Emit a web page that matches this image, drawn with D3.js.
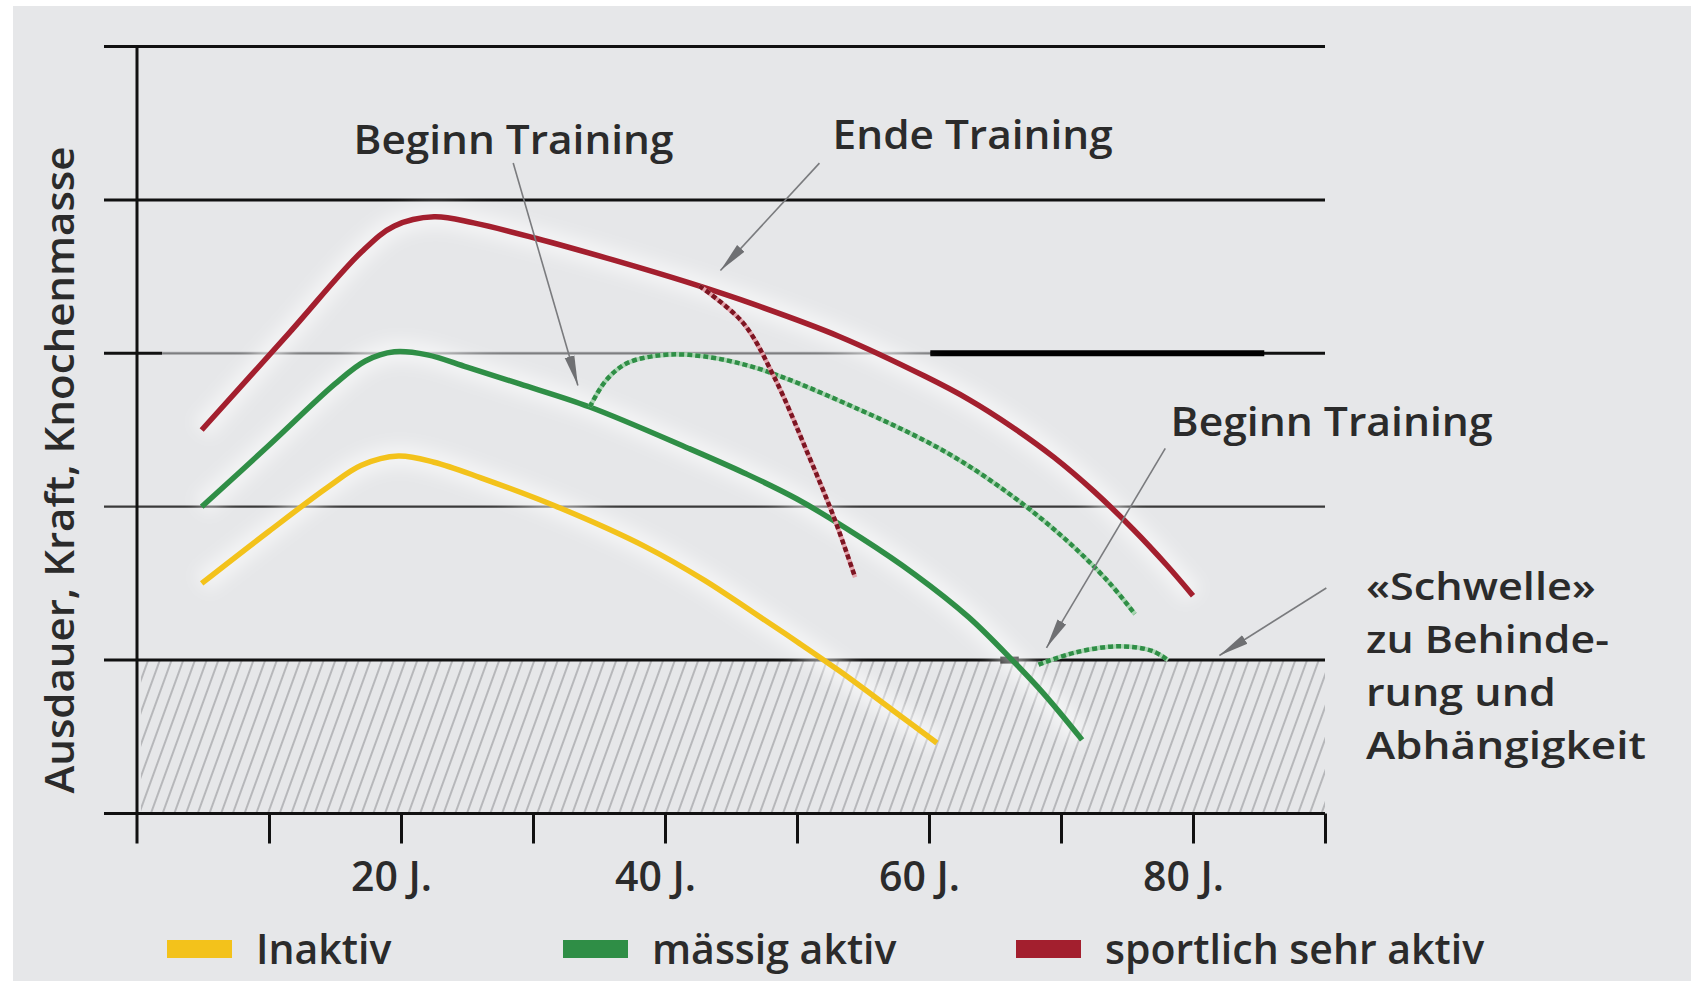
<!DOCTYPE html>
<html>
<head>
<meta charset="utf-8">
<script src="https://cdn.jsdelivr.net/npm/d3@7"></script>
<style>
  html, body { margin: 0; padding: 0; background: #ffffff; }
  svg { display: block; }
  text { font-family: "Open Sans", "Noto Sans", sans-serif; font-weight: 600; fill: #2b2b2b; }
</style>
</head>
<body>
<div id="chart"></div>
<script>
// chart values (age in years, level in grid units 0..5)
var redAge   = [4.9, 11.5, 17.0, 19.5, 22.5, 25.5, 30.2, 36.0, 41.8, 46.7, 53.2, 59.7, 63.0, 66.3, 69.5, 72.5, 75.5, 78.0, 80.0];
var redVal   = [2.50, 3.13, 3.66, 3.83, 3.89, 3.85, 3.75, 3.61, 3.46, 3.32, 3.11, 2.85, 2.70, 2.52, 2.32, 2.10, 1.85, 1.62, 1.42];
var redStopAge = [42.6, 45.9, 48.3, 50.8, 52.8, 54.4];
var redStopVal = [3.44, 3.20, 2.84, 2.35, 1.93, 1.54];

var greenAge = [4.9, 10.0, 15.0, 17.3, 19.5, 22.0, 25.0, 29.0, 34.3, 41.8, 46.0, 50.0, 54.8, 58.9, 63.0, 66.3, 68.7, 71.6];
var greenVal = [2.00, 2.40, 2.80, 2.95, 3.01, 2.99, 2.91, 2.80, 2.65, 2.38, 2.22, 2.05, 1.80, 1.56, 1.28, 1.00, 0.78, 0.48];
var greenStartAge = [34.3, 35.5, 37.0, 39.0, 41.8, 46.7, 54.8, 61.4, 66.3, 70.3, 73.6, 75.6];
var greenStartVal = [2.65, 2.82, 2.93, 2.98, 2.99, 2.91, 2.63, 2.35, 2.07, 1.79, 1.51, 1.30];
var greenLateAge = [68.3, 71.1, 74.4, 76.9, 78.1];
var greenLateVal = [0.97, 1.05, 1.09, 1.06, 1.00];

var yellowAge = [4.9, 10.0, 14.5, 17.0, 19.8, 22.5, 26.0, 32.1, 38.5, 43.0, 46.7, 50.0, 53.2, 57.3, 60.6];
var yellowVal = [1.50, 1.84, 2.13, 2.27, 2.33, 2.29, 2.19, 1.99, 1.74, 1.52, 1.31, 1.12, 0.93, 0.67, 0.46];

var gridLevels = [0, 1, 2, 3, 4, 5];
var tickAges = [10, 20, 30, 40, 50, 60, 70, 80, 90];
var labelAges = [20, 40, 60, 80];
var threshold = 1;

var legendNames = ["Inaktiv", "mässig aktiv", "sportlich sehr aktiv"];
var legendColors = ["#f3c21b", "#2f8e46", "#a31f2e"];

// annotations: text anchor (age, level), widths per line, and arrows from -> to
var notes = [
  {lines: ["Beginn Training"], lens: [320], age: 16.4, val: 4.30, size: 40},
  {lines: ["Ende Training"], lens: [280], age: 52.7, val: 4.33, size: 40},
  {lines: ["Beginn Training"], lens: [322], age: 78.3, val: 2.46, size: 40},
  {lines: ["«Schwelle»", "zu Behinde-", "rung und", "Abhängigkeit"], lens: [230, 243, 190, 280], age: 93.1, val: 1.39, size: 38}
];
var arrows = [
  [[28.5, 4.24], [33.4, 2.79]],
  [[51.7, 4.24], [44.2, 3.54]],
  [[77.9, 2.38], [68.9, 1.08]],
  [[90.1, 1.47], [82.0, 1.03]]
];

var width = 1691, height = 988;

var svg = d3.select("#chart").append("svg")
    .attr("width", width)
    .attr("height", height);

var x = d3.scaleLinear().domain([0, 90]).range([137, 1325]);
var y = d3.scaleLinear().domain([0, 5]).range([813.5, 46.5]);

// defs: hatching, arrow head, soft glow
var defs = svg.append("defs");
var hatch = defs.append("pattern")
    .attr("id", "hatch")
    .attr("patternUnits", "userSpaceOnUse")
    .attr("width", 11).attr("height", 11)
    .attr("patternTransform", "rotate(20)");
hatch.append("line")
    .attr("x1", 2).attr("y1", 0).attr("x2", 2).attr("y2", 11)
    .attr("stroke", "#8e8f93").attr("stroke-width", 1.1);

defs.append("marker")
    .attr("id", "head")
    .attr("markerUnits", "userSpaceOnUse")
    .attr("viewBox", "0 0 30 12")
    .attr("refX", 30).attr("refY", 6)
    .attr("markerWidth", 30).attr("markerHeight", 12)
    .attr("orient", "auto")
  .append("path")
    .attr("d", "M0,1 L30,6 L0,11 Z")
    .attr("fill", "#6f7073");

var glow = defs.append("filter").attr("id", "glow")
    .attr("x", "-20%").attr("y", "-20%").attr("width", "140%").attr("height", "140%");
glow.append("feGaussianBlur").attr("stdDeviation", 8);

// background panel
svg.append("rect")
    .attr("x", 13).attr("y", 6)
    .attr("width", width - 13).attr("height", height - 13)
    .attr("fill", "#e6e7e9");

// hatched zone below the threshold
svg.append("rect")
    .attr("x", x(0.3)).attr("y", y(threshold))
    .attr("width", x(90) - x(0.3))
    .attr("height", y(0) - y(threshold))
    .attr("fill", "url(#hatch)");

// horizontal grid lines (they also carry the y ticks)
svg.append("g").selectAll("line")
    .data(gridLevels).enter().append("line")
    .attr("x1", x(0) - 33)
    .attr("x2", x(90))
    .attr("y1", function(d) { return y(d); })
    .attr("y2", function(d) { return y(d); })
    .attr("stroke", function(d) { return d == 2 ? "#3a3a3a" : "#111"; })
    .attr("stroke-width", function(d) { return d == 2 ? 2.2 : 3; });

// the level-3 line is printed lighter in the middle and heavier on the right
var g3 = svg.append("g");
g3.append("line")
    .attr("x1", x(1.9)).attr("x2", x(60.1))
    .attr("y1", y(3)).attr("y2", y(3))
    .attr("stroke", "#e6e7e9").attr("stroke-width", 4);
g3.append("line")
    .attr("x1", x(1.9)).attr("x2", x(60.1))
    .attr("y1", y(3)).attr("y2", y(3))
    .attr("stroke", "#7d7e80").attr("stroke-width", 2.2);
g3.append("line")
    .attr("x1", x(60.1)).attr("x2", x(85.4))
    .attr("y1", y(3)).attr("y2", y(3))
    .attr("stroke", "#000").attr("stroke-width", 6);
svg.append("line")
    .attr("x1", x(65.4)).attr("x2", x(66.8))
    .attr("y1", y(1)).attr("y2", y(1))
    .attr("stroke", "#000").attr("stroke-width", 7);

// y axis
svg.append("line")
    .attr("x1", x(0)).attr("x2", x(0))
    .attr("y1", y(5)).attr("y2", y(0) + 30)
    .attr("stroke", "#111").attr("stroke-width", 3);

// x axis ticks + labels
var xAxis = d3.axisBottom(x)
    .tickValues(tickAges)
    .tickSize(30)
    .tickPadding(18)
    .tickFormat(function(d) { return labelAges.indexOf(d) >= 0 ? d + " J." : ""; });

var gx = svg.append("g")
    .attr("transform", "translate(0," + y(0) + ")")
    .call(xAxis);
gx.select(".domain").remove();
gx.selectAll(".tick line").attr("stroke", "#111").attr("stroke-width", 3);
gx.selectAll(".tick text")
    .attr("font-size", 41)
    .attr("x", -10)
    .attr("fill", "#2b2b2b")
    .style("font-family", "'Open Sans', sans-serif")
    .style("font-weight", 600);

// y axis title
svg.append("text")
    .attr("transform", "translate(74," + 470 + ") rotate(-90)")
    .attr("text-anchor", "middle")
    .attr("font-size", 40)
    .attr("textLength", 647)
    .attr("lengthAdjust", "spacingAndGlyphs")
    .text("Ausdauer, Kraft, Knochenmasse");

// curves
function series(ages, vals) {
  return ages.map(function(a, i) { return [a, vals[i]]; });
}
var line = d3.line()
    .x(function(d) { return x(d[0]); })
    .y(function(d) { return y(d[1]); })
    .curve(d3.curveCatmullRom.alpha(0.5));

var curves = [
  {pts: series(yellowAge, yellowVal), color: legendColors[0], dash: null, under: null},
  {pts: series(greenAge, greenVal), color: legendColors[1], dash: null, under: null},
  {pts: series(greenStartAge, greenStartVal), color: "#2f8e46", dash: "5,3", under: "#a9d6b2"},
  {pts: series(greenLateAge, greenLateVal), color: "#2f8e46", dash: "5,3", under: "#a9d6b2"},
  {pts: series(redAge, redVal), color: legendColors[2], dash: null, under: null},
  {pts: series(redStopAge, redStopVal), color: "#7d1522", dash: "5,3", under: "#e3a3ab"}
];

var gc = svg.append("g");
gc.selectAll("path.glow")
    .data(curves.filter(function(c) { return !c.dash; })).enter().append("path")
    .attr("class", "glow")
    .attr("d", function(c) { return line(c.pts); })
    .attr("fill", "none")
    .attr("stroke", "#ffffff")
    .attr("stroke-opacity", 0.55)
    .attr("stroke-width", 22)
    .attr("filter", "url(#glow)");

curves.forEach(function(c) {
  if (c.under) {
    gc.append("path")
      .attr("d", line(c.pts))
      .attr("fill", "none")
      .attr("stroke", c.under)
      .attr("stroke-width", 4.5);
  }
  gc.append("path")
    .attr("d", line(c.pts))
    .attr("fill", "none")
    .attr("stroke", c.color)
    .attr("stroke-width", c.dash ? 4.5 : 5.5)
    .attr("stroke-dasharray", c.dash)
    .attr("stroke-linecap", "butt")
    .attr("stroke-linejoin", "round");
});

// annotation arrows
svg.append("g").selectAll("line")
    .data(arrows).enter().append("line")
    .attr("x1", function(d) { return x(d[0][0]); })
    .attr("y1", function(d) { return y(d[0][1]); })
    .attr("x2", function(d) { return x(d[1][0]); })
    .attr("y2", function(d) { return y(d[1][1]); })
    .attr("stroke", "#7a7b7e")
    .attr("stroke-width", 1.6)
    .attr("marker-end", "url(#head)");

// annotation texts
notes.forEach(function(n) {
  n.lines.forEach(function(t, i) {
    svg.append("text")
      .attr("x", x(n.age))
      .attr("y", y(n.val) + i * 53)
      .attr("font-size", n.size)
      .attr("textLength", n.lens[i])
      .attr("lengthAdjust", "spacingAndGlyphs")
      .text(t);
  });
});

// legend
var legendX = [167, 563, 1016];
var legend = svg.append("g").selectAll("g")
    .data(legendNames).enter().append("g")
    .attr("transform", function(d, i) { return "translate(" + legendX[i] + ",940)"; });
legend.append("rect")
    .attr("width", 65).attr("height", 18)
    .attr("fill", function(d, i) { return legendColors[i]; });
legend.append("text")
    .attr("x", 89).attr("y", 24)
    .attr("font-size", 41)
    .text(function(d) { return d; });
</script>
</body>
</html>
